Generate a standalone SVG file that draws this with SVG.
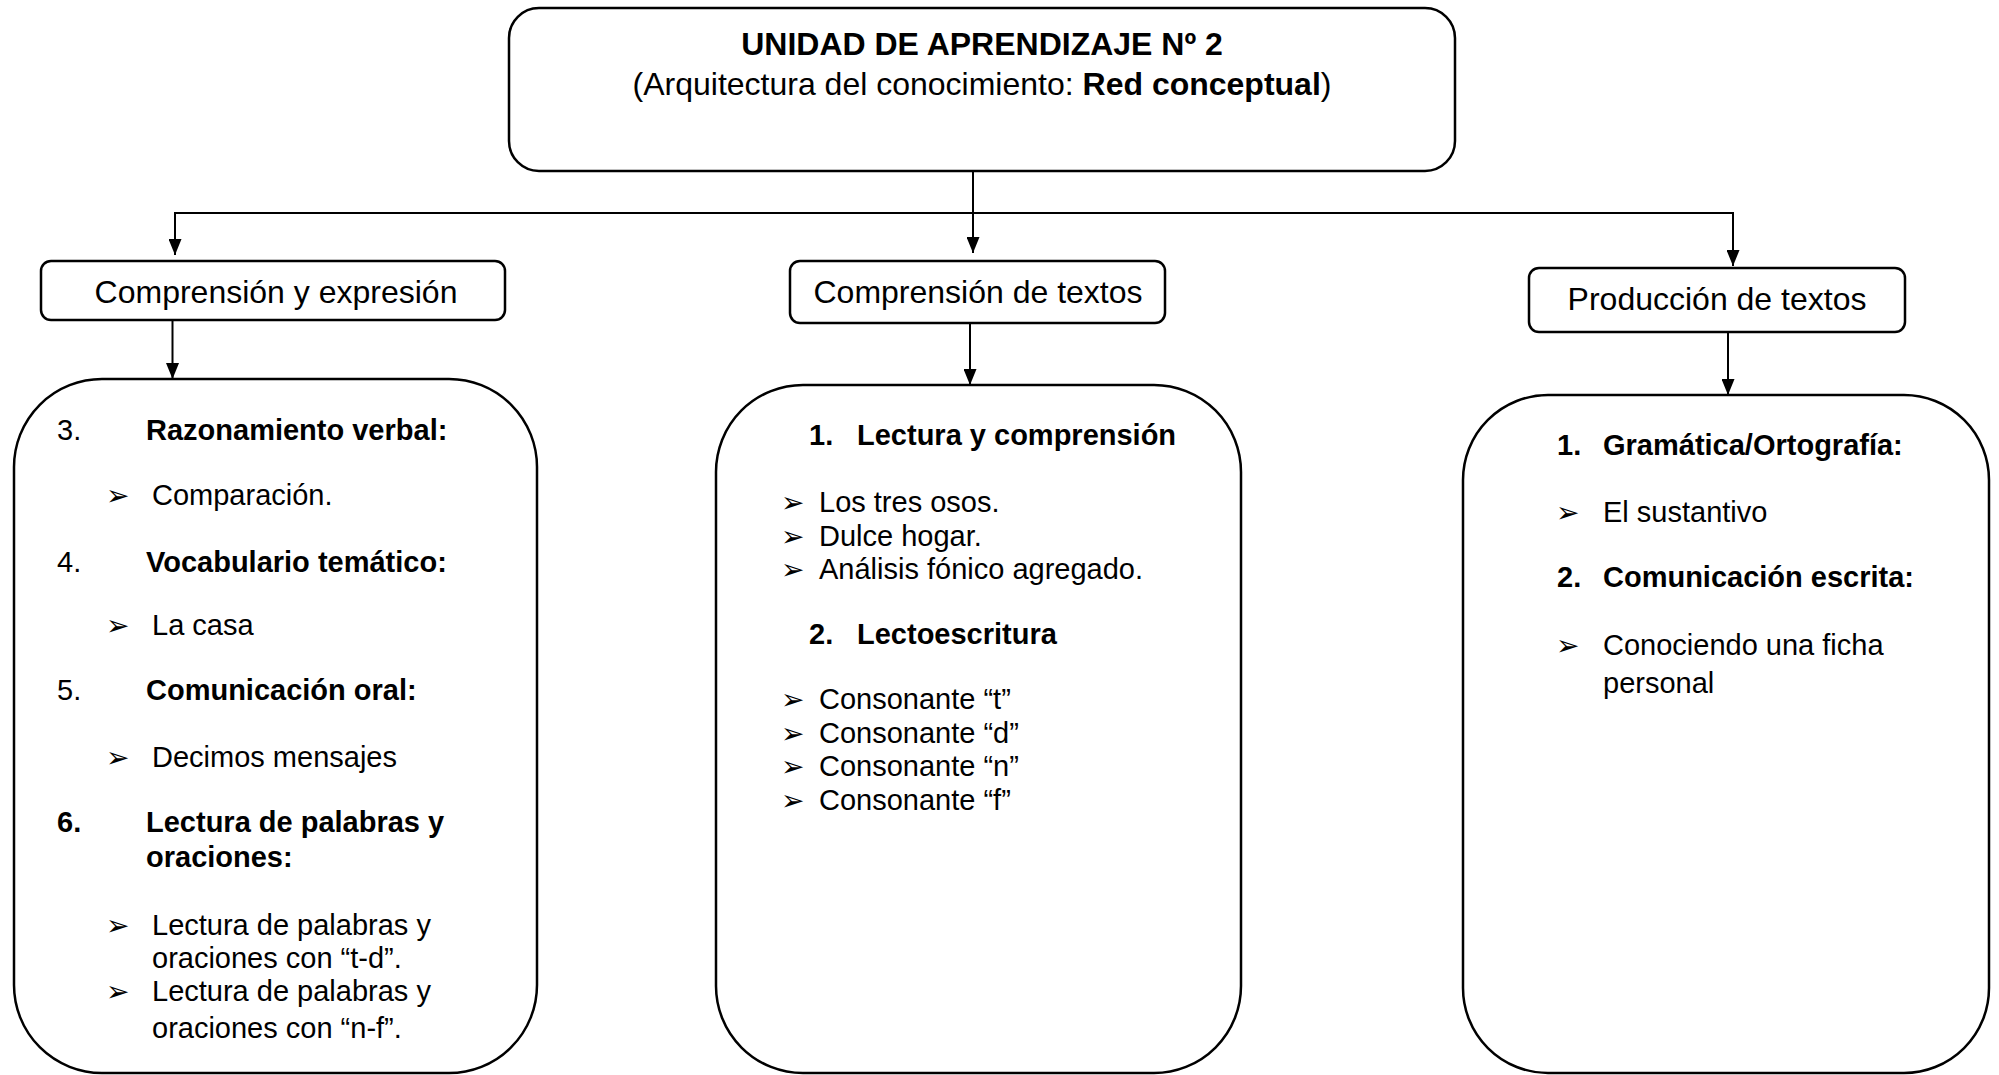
<svg xmlns="http://www.w3.org/2000/svg" width="1999" height="1075" viewBox="0 0 1999 1075">
<style>
  .box{fill:#fff;stroke:#000;stroke-width:2.5}
  .con{fill:none;stroke:#000;stroke-width:2}
  text{font-family:"Liberation Sans",Arial,sans-serif;fill:#000}
  .h{font-size:32px}
  .t{font-size:29px}
  .b{font-weight:bold}
  .bul{font-family:"DejaVu Sans",sans-serif;font-size:28px}
</style>
<defs>
  <marker id="arr" viewBox="0 0 16 13" refX="16" refY="6.5" markerWidth="16" markerHeight="13" markerUnits="userSpaceOnUse" orient="auto">
    <path d="M0,0 L16,6.5 L0,13 z" fill="#000"/>
  </marker>
</defs>
<rect width="1999" height="1075" fill="#fff"/>

<g id="connectors">
  <path class="con" d="M973,171 V253" marker-end="url(#arr)"/>
  <path class="con" d="M973,213 H175 V255" marker-end="url(#arr)"/>
  <path class="con" d="M973,213 H1733 V266" marker-end="url(#arr)"/>
  <path class="con" d="M172.5,320 V379" marker-end="url(#arr)"/>
  <path class="con" d="M970,323 V385" marker-end="url(#arr)"/>
  <path class="con" d="M1728,333 V395" marker-end="url(#arr)"/>
</g>

<g id="unidad">
  <rect class="box" x="509" y="8" width="946" height="163" rx="30" ry="30"/>
  <text class="h b" x="982" y="55" text-anchor="middle">UNIDAD DE APRENDIZAJE Nº 2</text>
  <text class="h" x="982" y="95" text-anchor="middle">(Arquitectura del conocimiento: <tspan class="b">Red conceptual</tspan>)</text>
</g>

<g id="comprension-expresion">
  <rect class="box" x="41" y="261" width="464" height="59" rx="10" ry="10"/>
  <text class="h" x="276" y="303" text-anchor="middle">Comprensión y expresión</text>
</g>

<g id="comprension-textos">
  <rect class="box" x="790" y="261" width="375" height="62" rx="10" ry="10"/>
  <text class="h" x="978" y="303" text-anchor="middle">Comprensión de textos</text>
</g>

<g id="produccion-textos">
  <rect class="box" x="1529" y="268" width="376" height="64" rx="10" ry="10"/>
  <text class="h" x="1717" y="310" text-anchor="middle">Producción de textos</text>
</g>

<g id="contenidos-izq">
  <rect class="box" x="14" y="379" width="523" height="694" rx="88" ry="88"/>
  <text class="t" x="57" y="440">3.</text>
  <text class="t b" x="146" y="440">Razonamiento verbal:</text>
  <text class="t" x="152" y="505">Comparación.</text>
  <text class="t" x="57" y="572">4.</text>
  <text class="t b" x="146" y="572">Vocabulario temático:</text>
  <text class="t" x="152" y="635">La casa</text>
  <text class="t" x="57" y="700">5.</text>
  <text class="t b" x="146" y="700">Comunicación oral:</text>
  <text class="t" x="152" y="767">Decimos mensajes</text>
  <text class="t b" x="57" y="832">6.</text>
  <text class="t b" x="146" y="832">Lectura de palabras y</text>
  <text class="t b" x="146" y="867">oraciones:</text>
  <text class="t" x="152" y="935">Lectura de palabras y</text>
  <text class="t" x="152" y="968">oraciones con “t-d”.</text>
  <text class="t" x="152" y="1001">Lectura de palabras y</text>
  <text class="t" x="152" y="1038">oraciones con “n-f”.</text>
  <text class="bul"><tspan x="106" y="505">➢</tspan><tspan x="106" y="635">➢</tspan><tspan x="106" y="767">➢</tspan><tspan x="106" y="935">➢</tspan><tspan x="106" y="1001">➢</tspan></text>
</g>

<g id="contenidos-centro">
  <rect class="box" x="716" y="385" width="525" height="688" rx="87" ry="87"/>
  <text class="t b" x="809" y="445">1.</text>
  <text class="t b" x="857" y="445">Lectura y comprensión</text>
  <text class="t" x="819" y="512">Los tres osos.</text>
  <text class="t" x="819" y="546">Dulce hogar.</text>
  <text class="t" x="819" y="579">Análisis fónico agregado.</text>
  <text class="t b" x="809" y="644">2.</text>
  <text class="t b" x="857" y="644">Lectoescritura</text>
  <text class="t" x="819" y="709">Consonante “t”</text>
  <text class="t" x="819" y="743">Consonante “d”</text>
  <text class="t" x="819" y="776">Consonante “n”</text>
  <text class="t" x="819" y="810">Consonante “f”</text>
  <text class="bul"><tspan x="781" y="512">➢</tspan><tspan x="781" y="546">➢</tspan><tspan x="781" y="579">➢</tspan><tspan x="781" y="709">➢</tspan><tspan x="781" y="743">➢</tspan><tspan x="781" y="776">➢</tspan><tspan x="781" y="810">➢</tspan></text>
</g>

<g id="contenidos-der">
  <rect class="box" x="1463" y="395" width="526" height="678" rx="85" ry="85"/>
  <text class="t b" x="1557" y="455">1.</text>
  <text class="t b" x="1603" y="455">Gramática/Ortografía:</text>
  <text class="t" x="1603" y="522">El sustantivo</text>
  <text class="t b" x="1557" y="587">2.</text>
  <text class="t b" x="1603" y="587">Comunicación escrita:</text>
  <text class="t" x="1603" y="655">Conociendo una ficha</text>
  <text class="t" x="1603" y="693">personal</text>
  <text class="bul"><tspan x="1556" y="522">➢</tspan><tspan x="1556" y="655">➢</tspan></text>
</g>
</svg>
